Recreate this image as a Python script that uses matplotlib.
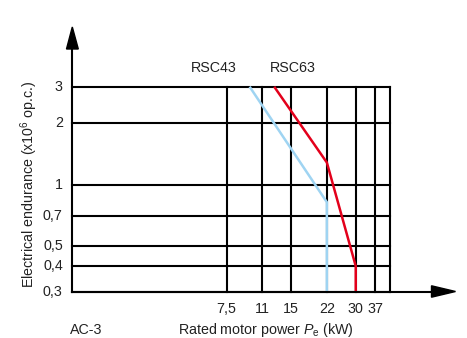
import matplotlib
matplotlib.use("Agg")
import matplotlib.pyplot as plt
from matplotlib.patches import Polygon

plt.rcParams['font.family'] = ['Liberation Sans', 'DejaVu Sans']
plt.rcParams['mathtext.fontset'] = 'custom'
plt.rcParams['mathtext.rm'] = 'Liberation Sans'
plt.rcParams['mathtext.it'] = 'Liberation Sans:italic'

# Data
x_ticks = [7.5, 11, 15, 22, 30, 37]
x_tick_labels = ["7,5", "11", "15", "22", "30", "37"]
y_ticks = [0.3, 0.4, 0.5, 0.7, 1, 2, 3]
y_tick_labels = ["0,3", "0,4", "0,5", "0,7", "1", "2", "3"]

rsc43_power = [9.6, 22, 22]
rsc43_endurance = [3, 0.82, 0.3]
rsc63_power = [12.5, 22, 30, 30]
rsc63_endurance = [3, 1.28, 0.4, 0.3]

W, H = 467, 338
fig = plt.figure(figsize=(W / 100, H / 100), dpi=100)
left, right = 72.3 / W, 389.7 / W
bottom, top = 1 - 291.7 / H, 1 - 86.7 / H
ax = fig.add_axes([left, bottom, right - left, top - bottom])
ax.set_xscale('log')
ax.set_yscale('log')
ax.set_xlim(1.43, 43.2)
ax.set_ylim(0.3, 3)
for s in ax.spines.values():
    s.set_visible(False)
ax.set_xticks([])
ax.set_yticks([])
ax.minorticks_off()
ax.patch.set_alpha(0)

text_color = '#222222'
lw_grid = 1.5
for yv in y_ticks:
    ax.axhline(yv, color='black', lw=lw_grid, zorder=1, clip_on=False)
for xv in x_ticks:
    ax.axvline(xv, color='black', lw=lw_grid, zorder=1, clip_on=False)
ax.axvline(43.2, color='black', lw=lw_grid, zorder=1, clip_on=False)

ax.plot(rsc43_power, rsc43_endurance, color='#9fd4f2', lw=1.8, zorder=3,
        solid_capstyle='butt', clip_on=False)
ax.plot(rsc63_power, rsc63_endurance, color='#e3001b', lw=1.8, zorder=3,
        solid_capstyle='butt', clip_on=False)

# axis arrows (figure coordinates)
fig_tr = fig.transFigure
ax_y0 = 1 - 291.7 / H
fig.add_artist(plt.Line2D([left, left], [ax_y0, 1 - 45 / H], color='black',
                          lw=1.5, transform=fig_tr))
fig.add_artist(plt.Line2D([left, 432 / W], [ax_y0, ax_y0], color='black',
                          lw=1.5, transform=fig_tr))
fig.add_artist(Polygon([[66.5 / W, 1 - 49 / H], [78.3 / W, 1 - 49 / H],
                        [72.3 / W, 1 - 27 / H]], closed=True, color='black',
                       transform=fig_tr))
fig.add_artist(Polygon([[431.5 / W, 1 - 285.8 / H], [431.5 / W, 1 - 297.2 / H],
                        [455.5 / W, 1 - 291.5 / H]], closed=True, color='black',
                       transform=fig_tr))

fs = 10.3
for yv, lab in zip(y_ticks, y_tick_labels):
    ax.text(-0.03, yv, lab, transform=ax.get_yaxis_transform(), ha='right',
            va='center', fontsize=fs, color=text_color)
for xv, lab in zip(x_ticks, x_tick_labels):
    ax.text(xv, -0.085, lab, transform=ax.get_xaxis_transform(), ha='center',
            va='center', fontsize=fs, color=text_color)

fig.text(29 / W, 1 - 184 / H, r'Electrical endurance (x10$^{6}$ op.c.)',
         rotation=90, ha='center', va='center', fontsize=fs, color=text_color)
fig.text(214 / W, 1 - 68 / H, 'RSC43', ha='center', va='center', fontsize=fs,
         color=text_color)
fig.text(292.5 / W, 1 - 68 / H, 'RSC63', ha='center', va='center', fontsize=fs,
         color=text_color)
fig.text(70 / W, 1 - 330 / H, 'AC-3', ha='left', va='center', fontsize=fs,
         color=text_color)
fig.text(178 / W, 1 - 330 / H, r'Rated motor power $P_{\mathrm{e}}$ (kW)',
         ha='left', va='center', fontsize=fs, color=text_color)

fig.savefig('out.png', dpi=100)
